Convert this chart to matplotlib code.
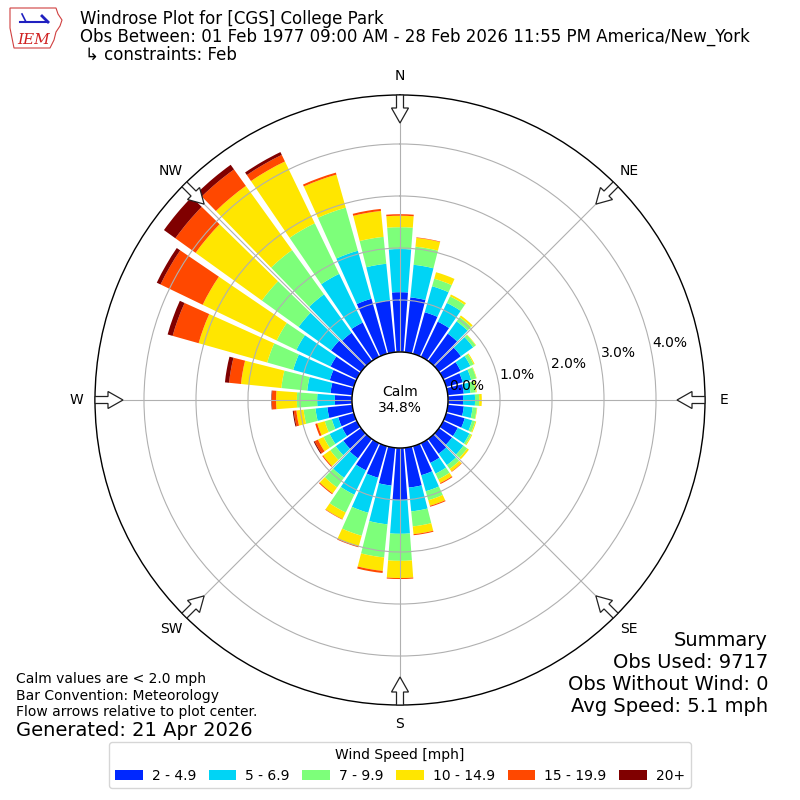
import numpy as np
import matplotlib
matplotlib.use("Agg")
import matplotlib.pyplot as plt
from matplotlib.patches import Circle, FancyArrow, Polygon

# Direction bins (deg, meteorological) and frequency (%) per speed bin
directions = np.arange(0, 360, 10)
speed_labels = ['2 - 4.9', '5 - 6.9', '7 - 9.9', '10 - 14.9', '15 - 19.9', '20+']
colors = ['#0028ff', '#00d4f5', '#7dff7a', '#ffe600', '#ff4800', '#800000']

spd_2_5 = [1.15, 1.06, 0.83, 0.75, 0.65, 0.52, 0.37, 0.33, 0.31, 0.29, 0.31, 0.37,
           0.31, 0.31, 0.35, 0.42, 0.58, 0.77, 1.00, 0.73, 0.63, 0.58, 0.46, 0.42,
           0.31, 0.31, 0.48, 0.33, 0.42, 0.48, 0.56, 0.71, 0.67, 0.73, 1.10, 1.00]
spd_5_7 = [0.83, 0.63, 0.52, 0.40, 0.29, 0.29, 0.21, 0.17, 0.13, 0.23, 0.17, 0.15,
           0.25, 0.27, 0.27, 0.23, 0.32, 0.46, 0.65, 0.75, 0.70, 0.52, 0.46, 0.18,
           0.27, 0.13, 0.23, 0.34, 0.45, 0.73, 0.73, 0.77, 0.91, 1.04, 0.96, 0.71]
spd_7_10 = [0.42, 0.35, 0.15, 0.14, 0.10, 0.06, 0.07, 0.10, 0.10, 0.08, 0.08, 0.06,
            0.04, 0.09, 0.09, 0.12, 0.18, 0.29, 0.52, 0.64, 0.46, 0.38, 0.23, 0.13,
            0.13, 0.14, 0.23, 0.39, 0.50, 0.52, 0.42, 0.87, 1.05, 1.08, 0.86, 0.52]
spd_10_15 = [0.22, 0.17, 0.13, 0.04, 0.04, 0.01, 0.02, 0.01, 0.02, 0.05, 0.01, 0.02,
             0.02, 0.04, 0.06, 0.08, 0.11, 0.15, 0.33, 0.26, 0.21, 0.14, 0.14, 0.17,
             0.12, 0.15, 0.14, 0.40, 0.78, 1.37, 1.58, 1.57, 1.52, 1.32, 0.66, 0.50]
spd_15_20 = [0.03, 0.01, 0.00, 0.00, 0.00, 0.00, 0.00, 0.00, 0.00, 0.00, 0.00, 0.00,
             0.00, 0.00, 0.01, 0.02, 0.02, 0.02, 0.02, 0.04, 0.02, 0.01, 0.02, 0.02,
             0.07, 0.04, 0.05, 0.08, 0.23, 0.52, 0.90, 0.48, 0.39, 0.14, 0.04, 0.04]
spd_20 = [0.00, 0.00, 0.00, 0.00, 0.00, 0.00, 0.00, 0.00, 0.00, 0.00, 0.00, 0.00,
          0.00, 0.00, 0.00, 0.00, 0.00, 0.00, 0.00, 0.00, 0.00, 0.00, 0.00, 0.00,
          0.02, 0.00, 0.02, 0.01, 0.08, 0.10, 0.08, 0.27, 0.11, 0.06, 0.00, 0.00]
speed_bins = [spd_2_5, spd_5_7, spd_7_10, spd_10_15, spd_15_20, spd_20]

calm_pct = 34.8
rticks = [0, 1, 2, 3, 4]
compass = ['N', 'NE', 'E', 'SE', 'S', 'SW', 'W', 'NW']

fig = plt.figure(figsize=(8, 8), dpi=100)
ax = fig.add_axes([0.11875, 0.11875, 0.7625, 0.7625], projection='polar')
ax.set_theta_zero_location('N')
ax.set_theta_direction(-1)

theta = np.deg2rad(directions)
width = np.deg2rad(8.5)
bottom = np.zeros(len(directions))
handles = []
for vals, col, lab in zip(speed_bins, colors, speed_labels):
    vals = np.array(vals)
    b = ax.bar(theta, vals, width=width, bottom=bottom, color=col,
               linewidth=0, label=lab, zorder=2)
    handles.append(b)
    bottom = bottom + vals

ax.set_rorigin(-0.923)
ax.set_ylim(0, 4.942)
ax.set_rticks(rticks)
ax.set_yticklabels([])
ax.set_xticks(np.deg2rad(np.arange(0, 360, 45)))
ax.set_xticklabels([])
ax.set_axisbelow(False)
ax.grid(True, color='#b0b0b0', linewidth=0.8)
ax.spines['polar'].set_linewidth(1.0)
ax.spines['inner'].set_visible(False)

for v in rticks:
    ax.text(np.deg2rad(78.0), v + 0.38, f"{v:.1f}%", ha='center', va='center',
            fontsize=10, zorder=6)

# calm circle
ax.add_artist(Circle((0.5, 0.5), 48 / 610, transform=ax.transAxes, facecolor='white',
                     edgecolor='black', linewidth=1.0, zorder=5, clip_on=False))
ax.text(0.5, 0.5, f"Calm\n{calm_pct:.1f}%", transform=ax.transAxes, ha='center',
        va='center', fontsize=10, zorder=6)

# compass labels and flow arrows
for i, lab in enumerate(compass):
    a = np.deg2rad(i * 45)
    fig.text(0.5 + 324 / 800 * np.sin(a), 0.5 + 324 / 800 * np.cos(a), lab,
             ha='center', va='center', fontsize=10)
    x0 = 0.5 + 305 / 800 * np.sin(a)
    y0 = 0.5 + 305 / 800 * np.cos(a)
    arr = FancyArrow(x0, y0, -28 / 800 * np.sin(a), -28 / 800 * np.cos(a),
                     width=7 / 800, head_width=17 / 800, head_length=15 / 800,
                     length_includes_head=True, transform=fig.transFigure,
                     facecolor='white', edgecolor='#222222', linewidth=0.9, zorder=10)
    fig.add_artist(arr)

# titles
fig.text(0.1, 0.976, "Windrose Plot for [CGS] College Park", fontsize=12, va='center')
fig.text(0.1, 0.954, "Obs Between: 01 Feb 1977 09:00 AM - 28 Feb 2026 11:55 PM America/New_York",
         fontsize=12, va='center')
fig.text(0.106, 0.931, "\u21b3 constraints: Feb", fontsize=12, va='center')

# logo
lax = fig.add_axes([8 / 800, 1 - 52 / 800, 56 / 800, 46 / 800])
lax.set_xlim(0, 56)
lax.set_ylim(0, 46)
lax.axis('off')
lax.add_patch(Polygon([[2, 44], [48, 44], [50, 38], [54, 32], [52, 26], [48, 20],
                       [46, 12], [42, 4], [6, 4], [4, 14], [2, 24]],
                      closed=True, fill=False, edgecolor='#d04040', linewidth=0.8))
lax.plot([12, 40], [30, 30], color='#2020c0', lw=1.5)
lax.plot([14, 18], [38, 30], color='#2020c0', lw=1.2)
lax.plot([34, 40], [36, 30], color='#2020c0', lw=2.0)
lax.text(26, 12, "IEM", color='#d02020', fontsize=11, style='italic',
         family='DejaVu Serif', ha='center', va='center')

# notes
fig.text(0.02, 0.151, "Calm values are < 2.0 mph", fontsize=10, va='center')
fig.text(0.02, 0.130, "Bar Convention: Meteorology", fontsize=10, va='center')
fig.text(0.02, 0.110, "Flow arrows relative to plot center.", fontsize=10, va='center')
fig.text(0.02, 0.087, "Generated: 21 Apr 2026", fontsize=14, va='center')

summary = ["Summary", "Obs Used: 9717", "Obs Without Wind: 0", "Avg Speed: 5.1 mph"]
for k, line in enumerate(summary):
    fig.text(0.96, 0.200 - k * 0.0275, line, fontsize=14, ha='right', va='center')

fig.legend(handles, speed_labels, loc='lower center', bbox_to_anchor=(0.5, 0.006),
           ncol=6, title='Wind Speed [mph]', fontsize=10, title_fontsize=10,
           handlelength=2.0, handleheight=0.7, handletextpad=0.65, columnspacing=0.9)

fig.savefig('out.png', dpi=100)
